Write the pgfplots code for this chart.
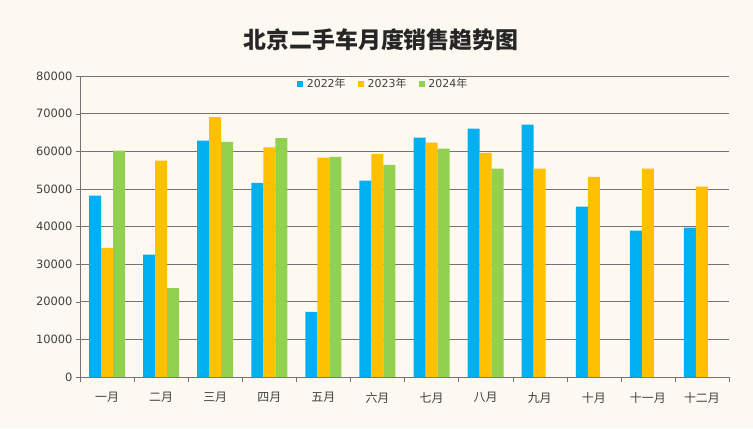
\documentclass[border=0pt]{standalone}
\usepackage{fontspec}
\setmainfont{DejaVu Sans}
\newfontfamily\cjk{Noto Sans CJK SC}
\usepackage{pgfplots}
\pgfplotsset{compat=1.18}
\definecolor{bg}{HTML}{FDF9F0}
\definecolor{c22}{HTML}{00B0F0}
\definecolor{c23}{HTML}{FFC000}
\definecolor{c24}{HTML}{92D050}
\definecolor{txt}{HTML}{404040}
\begin{document}
\begin{tikzpicture}[x=1bp,y=1bp]
\fill[bg] (0,0) rectangle (753,428);
\useasboundingbox (0,0) rectangle (753,428);
\node[font=\cjk\bfseries\fontsize{23}{28}\selectfont, text=black!85] at (381,388) {北京二手车月度销售趋势图};
\begin{axis}[
  at={(80bp,51bp)}, anchor=south west,
  scale only axis, width=649bp, height=301bp,
  xmin=-0.5, xmax=11.5, ymin=0, ymax=80000,
  ybar, bar width=12bp,
  axis lines=left, axis line style={-, draw=gray!90!black},
  tick align=outside,
  xtick={0,...,11},
  xticklabels={一月,二月,三月,四月,五月,六月,七月,八月,九月,十月,十一月,十二月},
  major x tick style={draw=none},
  minor xtick={-0.5,0.5,...,11.5},
  minor tick length=5bp,
  minor x tick style={draw=gray!90!black},
  ytick={0,10000,...,80000},
  major tick length=4bp,
  y tick style={draw=gray!90!black},
  scaled y ticks=false,
  /pgf/number format/assume math mode=true,
  yticklabel style={/pgf/number format/.cd, fixed, set thousands separator={}},
  ticklabel style={font=\fontsize{11.5}{13}\selectfont, text=txt},
  xticklabel style={font=\cjk\fontsize{12}{14}\selectfont, yshift=-8bp},
  ymajorgrids, grid style={draw=gray!90!black, line width=0.6pt},
  legend style={at={(0.467,1.005)}, anchor=north, draw=none, fill=none,
    legend columns=3, font=\fontsize{11}{13}\selectfont, text=txt,
    /tikz/every odd column/.append style={column sep=2bp},
    /tikz/every even column/.append style={column sep=10bp}},
  legend image code/.code={\fill[#1] (0bp,-3bp) rectangle (6bp,3bp);},
]
\addplot[fill=c22, draw=none, bar shift=-12bp] coordinates {
(0,48200) (1,32500) (2,62800) (3,51600) (4,17300) (5,52200)
(6,63600) (7,66000) (8,67100) (9,45300) (10,38900) (11,39700)};
\addplot[fill=c23, draw=none, bar shift=0bp] coordinates {
(0,34300) (1,57500) (2,69100) (3,61000) (4,58300) (5,59300)
(6,62300) (7,59600) (8,55400) (9,53200) (10,55400) (11,50600)};
\addplot[fill=c24, draw=none, bar shift=12bp] coordinates {
(0,60200) (1,23600) (2,62500) (3,63500) (4,58500) (5,56400)
(6,60700) (7,55400)};
\legend{2022{\cjk 年},2023{\cjk 年},2024{\cjk 年}}
\end{axis}
\end{tikzpicture}
\end{document}
